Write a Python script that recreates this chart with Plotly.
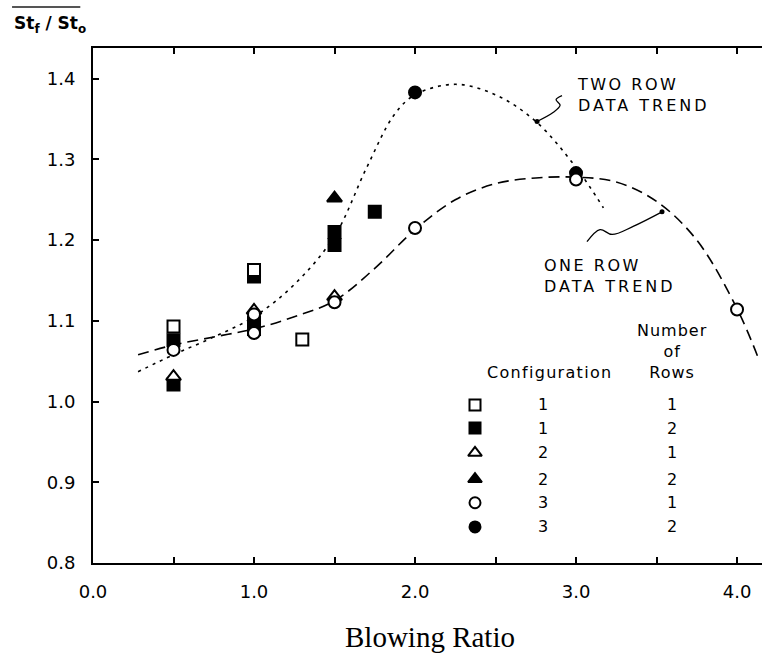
import plotly.graph_objects as go

# ---------------- data ----------------
c1r1_x = [0.5, 1.0, 1.3]
c1r1_y = [1.093, 1.163, 1.077]
c1r2_x = [0.5, 0.5, 1.0, 1.0, 1.0, 1.5, 1.5, 1.75]
c1r2_y = [1.076, 1.021, 1.155, 1.098, 1.090, 1.210, 1.194, 1.235]
c2r1_x = [0.5, 1.0, 1.5]
c2r1_y = [1.031, 1.113, 1.130]
c2r2_x = [1.5]
c2r2_y = [1.252]
c3r1_x = [0.5, 1.0, 1.0, 1.5, 2.0, 3.0, 4.0]
c3r1_y = [1.064, 1.108, 1.085, 1.123, 1.215, 1.275, 1.114]
c3r2_x = [2.0, 3.0]
c3r2_y = [1.383, 1.283]

two_row_x = [0.28, 0.5, 0.75, 1.0, 1.25, 1.5, 1.7, 1.87, 2.0, 2.25, 2.5, 2.75, 3.0, 3.17]
two_row_y = [1.037, 1.058, 1.08, 1.105, 1.145, 1.205, 1.29, 1.355, 1.38, 1.393, 1.38, 1.347, 1.29, 1.24]
one_row_x = [0.28, 0.5, 0.75, 1.0, 1.25, 1.5, 1.75, 2.0, 2.25, 2.5, 2.75, 3.0, 3.25, 3.5, 3.75, 4.0, 4.13]
one_row_y = [1.058, 1.07, 1.08, 1.09, 1.105, 1.125, 1.165, 1.213, 1.25, 1.27, 1.277, 1.278, 1.272, 1.248, 1.2, 1.115, 1.055]

x_tick_vals = [0.0, 1.0, 2.0, 3.0, 4.0]
x_tick_text = ["0.0", "1.0", "2.0", "3.0", "4.0"]
x_minor_step = 0.5
y_tick_vals = [0.8, 0.9, 1.0, 1.1, 1.2, 1.3, 1.4]
y_tick_text = ["0.8", "0.9", "1.0", "1.1", "1.2", "1.3", "1.4"]

legend_config = ["1", "1", "2", "2", "3", "3"]
legend_rows = ["1", "2", "1", "2", "1", "2"]

# leader lines for the trend labels
two_ptr_x = [2.913, 2.876, 2.901, 2.857, 2.758]
two_ptr_y = [1.379, 1.374, 1.367, 1.358, 1.347]
one_ptr_x = [3.068, 3.149, 3.224, 3.355, 3.534]
one_ptr_y = [1.198, 1.213, 1.207, 1.217, 1.235]

# ---------------- styles ----------------
BLK = "black"
FONT = "DejaVu Sans"
styles = [
    dict(symbol="square", color="white", size=12),
    dict(symbol="square", color=BLK, size=12),
    dict(symbol="triangle-up", color="white", size=13),
    dict(symbol="triangle-up", color=BLK, size=13),
    dict(symbol="circle", color="white", size=12),
    dict(symbol="circle", color=BLK, size=12),
]
series = [(c1r2_x, c1r2_y, 1), (c2r2_x, c2r2_y, 3), (c3r2_x, c3r2_y, 5),
          (c1r1_x, c1r1_y, 0), (c2r1_x, c2r1_y, 2), (c3r1_x, c3r1_y, 4)]


def sp(text, ls):
    return '<span style="letter-spacing:%spx">%s</span>' % (ls, text)


def note(x, y, text, size=16, family=FONT, xa="center", ya="middle", align="center"):
    return dict(x=x, y=y, xref="paper", yref="paper", text=text, showarrow=False,
                xanchor=xa, yanchor=ya, align=align, font=dict(family=family, size=size, color=BLK))


fig = go.Figure()

fig.add_trace(go.Scatter(x=two_row_x, y=two_row_y, mode="lines",
                         line=dict(color=BLK, width=1.6, dash="3px,5px", shape="spline", smoothing=1.0),
                         showlegend=False, hoverinfo="skip"))
fig.add_trace(go.Scatter(x=one_row_x, y=one_row_y, mode="lines",
                         line=dict(color=BLK, width=1.6, dash="11px,6px", shape="spline", smoothing=1.0),
                         showlegend=False, hoverinfo="skip"))

for px_, py_ in [(two_ptr_x, two_ptr_y), (one_ptr_x, one_ptr_y)]:
    fig.add_trace(go.Scatter(x=px_, y=py_, mode="lines", line=dict(color=BLK, width=1.3, shape="spline"),
                             showlegend=False, hoverinfo="skip"))
    fig.add_trace(go.Scatter(x=[px_[-1]], y=[py_[-1]], mode="markers",
                             marker=dict(color=BLK, size=5), showlegend=False, hoverinfo="skip"))

for xs, ys, si in series:
    st = styles[si]
    fig.add_trace(go.Scatter(x=xs, y=ys, mode="markers",
                             marker=dict(symbol=st["symbol"], color=st["color"], size=st["size"],
                                         line=dict(color=BLK, width=2)),
                             showlegend=False))

# legend keys on an overlay canvas (paper-like coords)
leg_y = [0.307, 0.262, 0.214, 0.163, 0.117, 0.070]
for i, st in enumerate(styles):
    fig.add_trace(go.Scatter(x=[0.571], y=[leg_y[i]], xaxis="x2", yaxis="y2", mode="markers",
                             marker=dict(symbol=st["symbol"], color=st["color"], size=st["size"] - 1,
                                         line=dict(color=BLK, width=2)),
                             showlegend=False, hoverinfo="skip"))

ann = []
for i in range(6):
    ann.append(note(0.673, leg_y[i], legend_config[i]))
    ann.append(note(0.865, leg_y[i], legend_rows[i]))
ann += [
    note(0.683, 0.369, sp("Configuration", 1.3)),
    note(0.865, 0.410, sp("Number", 1) + "<br>" + sp("of", 1) + "<br>" + sp("Rows", 1)),
    note(0.7205, 0.909, sp("TWO ROW", 2.5) + "<br>" + sp("DATA TREND", 3), xa="left", align="left"),
    note(0.671, 0.557, sp("ONE ROW", 2.5) + "<br>" + sp("DATA TREND", 3), xa="left", align="left"),
    note(-0.121, 1.045, "<b>St<sub>f</sub> / St<sub>o</sub></b>", size=17, xa="left"),
    note(0.503, -0.1437, "Blowing Ratio", size=29, family="Liberation Serif"),
]

fig.update_layout(
    width=762, height=656,
    margin=dict(l=93, r=0, t=48, b=93),
    paper_bgcolor="white", plot_bgcolor="white",
    showlegend=False,
    annotations=ann,
    shapes=[dict(type="line", xref="paper", yref="paper", x0=-0.121, x1=-0.019, y0=1.0796, y1=1.0796,
                 line=dict(color="#555", width=2))],
    xaxis=dict(range=[0, 4.155], tickvals=x_tick_vals, ticktext=x_tick_text, ticks="inside",
               ticklen=6, tickwidth=1.5, tickcolor=BLK, showline=True, linecolor=BLK, linewidth=2,
               minor=dict(dtick=x_minor_step, tick0=0, ticks="inside", ticklen=6, tickwidth=1.5,
                          tickcolor=BLK, showgrid=False),
               mirror="ticks", showgrid=False, zeroline=False, ticklabelstandoff=11, automargin=False,
               tickfont=dict(family=FONT, size=18, color=BLK)),
    yaxis=dict(range=[0.8, 1.438], tickvals=y_tick_vals, ticktext=y_tick_text, ticks="inside",
               ticklen=6, tickwidth=1.5, tickcolor=BLK, showline=True, linecolor=BLK, linewidth=2,
               showgrid=False, zeroline=False, ticklabelstandoff=12, automargin=False,
               tickfont=dict(family=FONT, size=18, color=BLK)),
    xaxis2=dict(range=[0, 1], overlaying="x", visible=False, fixedrange=True, automargin=False),
    yaxis2=dict(range=[0, 1], overlaying="y", visible=False, fixedrange=True, automargin=False),
)

fig.write_html("out.html", config={"displayModeBar": False},
               post_script="document.body.style.margin='0';document.body.style.overflow='hidden';")
